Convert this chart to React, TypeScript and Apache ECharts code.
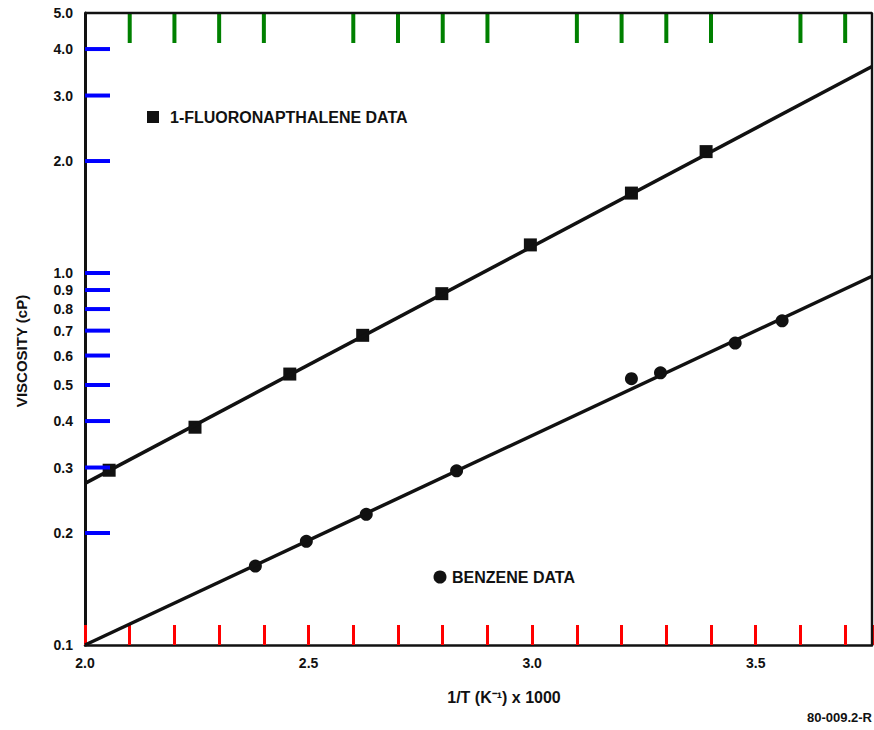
import React, { useEffect, useRef } from "react";
import * as echarts from "echarts";

// 1-Fluoronapthalene data (x = 1/T * 1000, y = viscosity cP)
const fluoroX = [2.054, 2.246, 2.458, 2.621, 2.798, 2.996, 3.222, 3.389];
const fluoroY = [0.295, 0.385, 0.535, 0.68, 0.88, 1.19, 1.64, 2.12];
// Benzene data
const benzeneX = [2.381, 2.495, 2.629, 2.831, 3.222, 3.287, 3.454, 3.559];
const benzeneY = [0.163, 0.19, 0.2245, 0.294, 0.52, 0.539, 0.648, 0.744];
// Fitted lines (end points)
const fluoroFitX = [2.0, 3.76];
const fluoroFitY = [0.272, 3.59];
const benzeneFitX = [2.0, 3.76];
const benzeneFitY = [0.1, 0.98];

// Axis ticks
const xMin = 2.0;
const xMax = 3.76;
const xLabelTicks = [2.0, 2.5, 3.0, 3.5];
const xMajorTicks = [2.5, 3.0, 3.5];
const xMinorTicks = [2.1, 2.2, 2.3, 2.4, 2.6, 2.7, 2.8, 2.9, 3.1, 3.2, 3.3, 3.4, 3.6, 3.7];
const yMin = 0.1;
const yMax = 5.0;
const yTickValues = [0.1, 0.2, 0.3, 0.4, 0.5, 0.6, 0.7, 0.8, 0.9, 1.0, 2.0, 3.0, 4.0, 5.0];

const FONT = '"Liberation Sans", Arial, Helvetica, sans-serif';
const INK = "#111111";

const lg = (v: number) => Math.log10(v);

export default function App() {
  const ref = useRef<HTMLDivElement>(null);

  useEffect(() => {
    document.body.style.margin = "0";
    if (!ref.current) return;
    const chart = echarts.init(ref.current, null, { renderer: "svg" });

    const yLog = yTickValues.map(lg);
    const yInner = yTickValues.slice(1, yTickValues.length - 1);
    const yBot = lg(yMin);
    const yTop = lg(yMax);

    chart.setOption({
      animation: false,
      grid: { left: 85, right: 2, top: 13, bottom: 85 },
      xAxis: {
        type: "value",
        min: xMin,
        max: xMax,
        interval: 0.1,
        splitLine: { show: false },
        axisLine: { show: true, onZero: false, lineStyle: { color: INK, width: 2.5 } },
        axisTick: { show: true, inside: true, length: 20, lineStyle: { color: "red", width: 3 } },
        axisLabel: {
          show: true,
          customValues: xLabelTicks,
          margin: 11,
          color: INK,
          fontSize: 14,
          fontWeight: "bold",
          fontFamily: FONT,
          formatter: (v: number) => v.toFixed(1),
        },
      },
      yAxis: {
        type: "value",
        min: yBot,
        max: yTop,
        splitLine: { show: false },
        axisLine: { show: true, onZero: false, lineStyle: { color: INK, width: 3 } },
        axisTick: { show: false },
        axisLabel: {
          show: true,
          customValues: yLog,
          margin: 12,
          color: INK,
          fontSize: 14,
          fontWeight: "bold",
          fontFamily: FONT,
          formatter: (v: number) => Math.pow(10, v).toFixed(1),
        },
      },
      series: [
        {
          type: "line",
          data: [[xMin, yTop], [xMax, yTop], [xMax, yBot]],
          symbol: "none",
          clip: false,
          lineStyle: { color: INK, width: 2.4 },
        },
        {
          type: "scatter",
          clip: false,
          symbol: "rect",
          symbolSize: [4, 30],
          symbolOffset: [0, 15],
          itemStyle: { color: "green", opacity: 1 },
          data: xMinorTicks.map((v) => [v, yTop]),
        },
        {
          name: "fluoroFit",
          type: "line",
          data: fluoroFitX.map((x, i) => [x, lg(fluoroFitY[i])]),
          symbol: "none",
          lineStyle: { color: INK, width: 3.5 },
        },
        {
          name: "benzeneFit",
          type: "line",
          data: benzeneFitX.map((x, i) => [x, lg(benzeneFitY[i])]),
          symbol: "none",
          lineStyle: { color: INK, width: 3.5 },
        },
        {
          name: "1-FLUORONAPTHALENE DATA",
          type: "scatter",
          symbol: "rect",
          symbolSize: 13,
          itemStyle: { color: INK, opacity: 1 },
          data: fluoroX.map((x, i) => [x, lg(fluoroY[i])]),
        },
        {
          name: "BENZENE DATA",
          type: "scatter",
          symbol: "circle",
          symbolSize: 13,
          itemStyle: { color: INK, opacity: 1 },
          data: benzeneX.map((x, i) => [x, lg(benzeneY[i])]),
        },
      ],
    });

    const px = (x: number, y: number) =>
      chart.convertToPixel({ xAxisIndex: 0, yAxisIndex: 0 }, [x, y]) as number[];
    const tickEls: any[] = [];
    yInner.forEach((v) => {
      const p = px(xMin, lg(v));
      tickEls.push({
        type: "rect",
        z: 10,
        shape: { x: p[0], y: p[1] - 2, width: 25, height: 4 },
        style: { fill: "blue" },
      });
    });

    chart.setOption({
      graphic: [
        ...tickEls,
        {
          type: "rect",
          shape: { x: 147, y: 111, width: 12, height: 12 },
          style: { fill: INK },
        },
        {
          type: "text",
          x: 170,
          y: 117,
          style: {
            text: "1-FLUORONAPTHALENE DATA",
            fill: INK,
            font: `bold 16px ${FONT}`,
            align: "left",
            verticalAlign: "middle",
          },
        },
        {
          type: "circle",
          shape: { cx: 440, cy: 577, r: 6.5 },
          style: { fill: INK },
        },
        {
          type: "text",
          x: 452,
          y: 577,
          style: {
            text: "BENZENE DATA",
            fill: INK,
            font: `bold 16px ${FONT}`,
            align: "left",
            verticalAlign: "middle",
          },
        },
        {
          type: "text",
          x: 504,
          y: 697,
          style: {
            text: "1/T (K\u207B\u00B9) x 1000",
            fill: INK,
            font: `bold 16px ${FONT}`,
            align: "center",
            verticalAlign: "middle",
          },
        },
        {
          type: "text",
          x: 21,
          y: 351,
          rotation: Math.PI / 2,
          style: {
            text: "VISCOSITY (cP)",
            fill: INK,
            font: `bold 15px ${FONT}`,
            align: "center",
            verticalAlign: "middle",
          },
        },
        {
          type: "text",
          x: 872,
          y: 717,
          style: {
            text: "80-009.2-R",
            fill: INK,
            font: `bold 13px ${FONT}`,
            align: "right",
            verticalAlign: "middle",
          },
        },
      ],
    });

    return () => chart.dispose();
  }, []);

  return <div ref={ref} style={{ width: 874, height: 730 }} />;
}
